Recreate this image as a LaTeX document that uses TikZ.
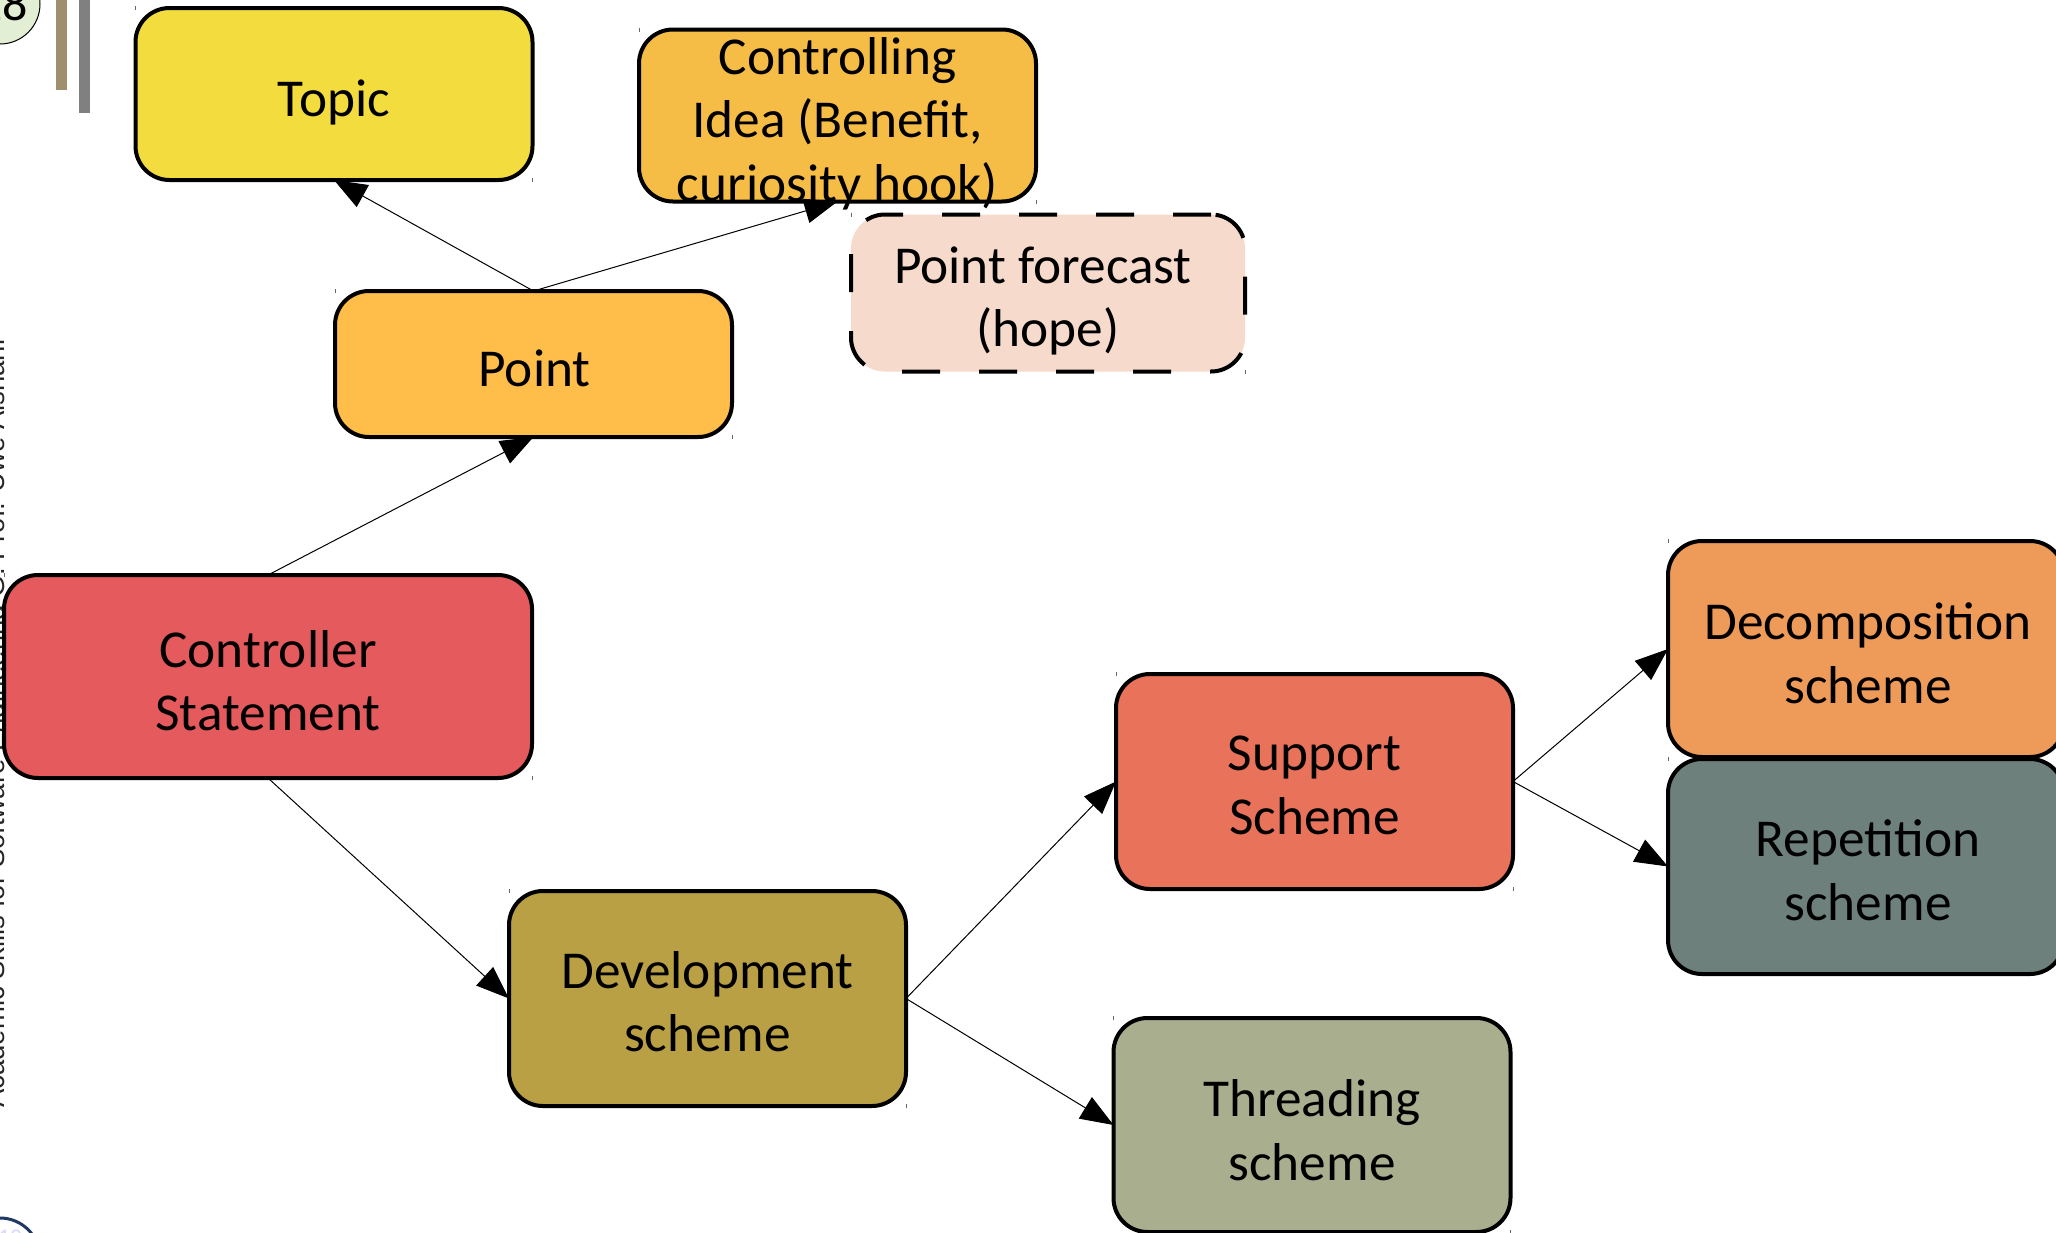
\documentclass[tikz,border=0pt]{standalone}
\usepackage{fontspec}
\setmainfont{Carlito}
\newfontfamily\sidefont{Liberation Sans}
\usetikzlibrary{arrows.meta}
\definecolor{cTopic}{HTML}{F3DC3E}
\definecolor{cCtrl}{HTML}{F6BD46}
\definecolor{cPoint}{HTML}{FFBE4A}
\definecolor{cFore}{HTML}{F6DBCC}
\definecolor{cRed}{HTML}{E55A5D}
\definecolor{cDev}{HTML}{B9A044}
\definecolor{cSup}{HTML}{E9725A}
\definecolor{cThr}{HTML}{A9AE8E}
\definecolor{cDec}{HTML}{EE9B59}
\definecolor{cRep}{HTML}{6D807B}
\definecolor{cGreen}{HTML}{E2EFD5}
\definecolor{cTan}{HTML}{9F8F6D}
\definecolor{cNavy}{HTML}{1F3864}
\tikzset{
  flowbox/.style={draw=black,line width=4pt,rounded corners=34pt,inner sep=0pt,outer sep=0pt},
  flowtext/.style={inner sep=0pt,outer sep=0pt,align=center,font=\fontsize{53.3}{63.6}\selectfont,text=black},
  tickmark/.style={draw=black!60,line width=1pt},
  conn/.style={draw=black,line width=1pt,-{Triangle[length=33pt,width=25pt]}}
}
% [extra box options]{name}{w}{h}{centre}{fill}{text}{text dx}{text dy (downward)}
\newcommand{\bx}[9][]{%
  \node[flowbox,#1,fill=#6,minimum width=#3pt,minimum height=#4pt] (#2) at (#5) {};
  \node[flowtext,xshift=#8pt,yshift=-#9pt] (#2text) at (#2.center) {#7};
  \draw[tickmark] (#2.north west) ++(0,-2) -- ++(0,4);
  \draw[tickmark] (#2.south east) ++(0,-2) -- ++(0,4);
}
\begin{document}
\begin{tikzpicture}[x=1pt,y=-1pt]
\useasboundingbox (0,0) rectangle (2056,1232);
\fill[white] (0,0) rectangle (2056,1232);
\clip (0,0) rectangle (2056,1232);
% background slide remnants
\node[draw=black,line width=1pt,fill=cGreen,circle,minimum size=80pt,inner sep=0pt] (badge) at (0,4) {};
\node[anchor=base east,inner sep=0pt,font=\fontsize{50}{52}\selectfont] (badgenum) at (28,20) {18};
\node[fill=cTan,minimum width=11pt,minimum height=90pt,inner sep=0pt] (bartan) at (61.5,45) {};
\node[fill=black!50,minimum width=11pt,minimum height=113pt,inner sep=0pt] (bargray) at (84.5,56.5) {};
\node[rotate=90,anchor=base west,inner sep=0pt,text=black!85,font=\sidefont\fontsize{27.5}{30}\selectfont] (side) at (5,1108)
  {Academic Skills for Software Engineering G. Prof. Uwe Aishani};
\node[draw=cNavy,line width=3pt,circle,minimum size=80pt,inner sep=0pt] (logo) at (0,1258) {};
\node[anchor=base,inner sep=0pt,text=blue!15,font=\fontsize{24}{26}\selectfont] (logonum) at (10,1245) {10};
% boxes
\bx{topic}{397}{172}{334,94}{cTopic}{Topic}{0}{8}
\bx{point}{397}{146}{533.5,364}{cPoint}{Point}{1}{4}
\bx[dashed,dash pattern=on 38pt off 39pt]{forecast}{394}{157}{1048,293}{cFore}{Point forecast\\\hspace*{10pt}(hope)}{-5}{8}
\bx{ctrl}{397}{172}{837.5,115.5}{cCtrl}{Controlling\\Idea (Benefit,\\curiosity hook)}{0}{8}
\bx{controller}{528}{203}{268,676.5}{cRed}{Controller\\Statement}{0}{4}
\bx{dev}{397}{215}{707.5,998.5}{cDev}{Development\\scheme}{0}{3}
\bx{support}{397}{215}{1314.5,781.5}{cSup}{Support\\Scheme}{0}{4}
\bx{thread}{397}{214}{1312,1125}{cThr}{Threading\\scheme}{0}{5}
\bx{decomp}{396}{216}{1866,649}{cDec}{Decomposition\\scheme}{2}{4}
\bx{repet}{396}{215}{1866,866.5}{cRep}{Repetition\\scheme}{2}{4}
% connectors
\draw[conn] (controller.north) -- (point.south);
\draw[conn] (point.north) -- (topic.south);
\draw[conn] (point.north) -- (ctrl.south);
\draw[conn] (controller.south) -- (dev.west);
\draw[conn] (dev.east) -- (support.west);
\draw[conn] (dev.east) -- (thread.west);
\draw[conn] (support.east) -- (decomp.west);
\draw[conn] (support.east) -- (repet.west);
\end{tikzpicture}
\end{document}
